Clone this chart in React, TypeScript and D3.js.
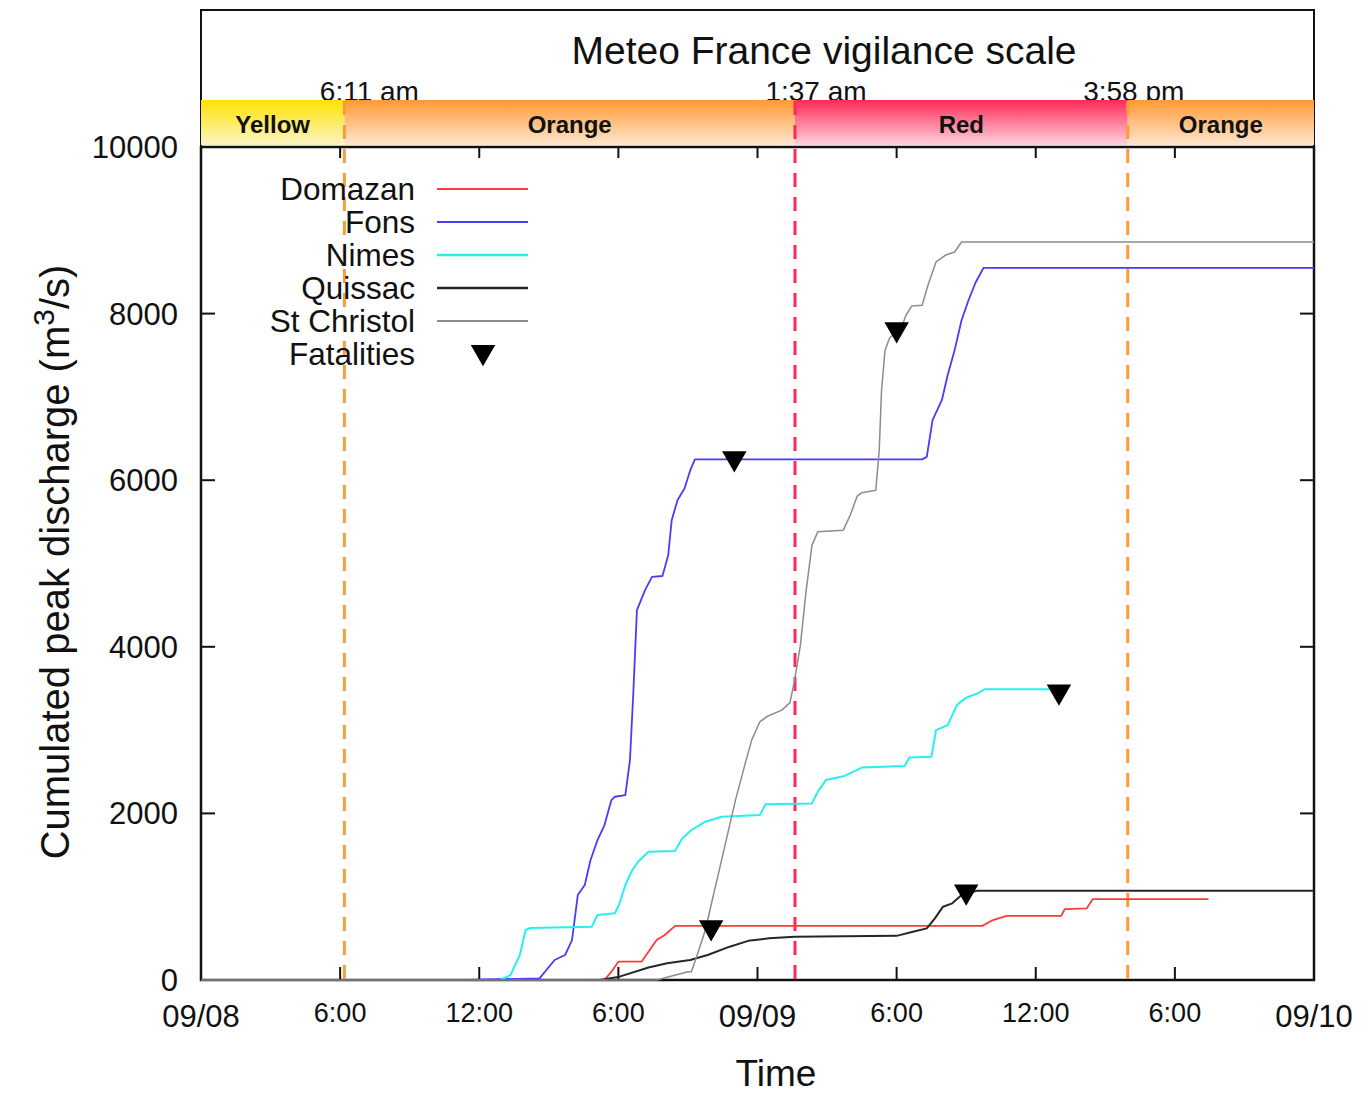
import { useEffect, useRef } from 'react';
import * as d3 from 'd3';

// hours since 09/08 00:00, cumulated peak discharge (m3/s)
const domazan: [number, number][] = [
  [0, 0], [17.4, 0], [17.7, 100], [18.0, 220], [19.0, 220], [19.35, 360], [19.65, 480],
  [20.0, 540], [20.45, 650], [33.7, 650], [34.15, 720], [34.75, 770], [37.1, 770],
  [37.25, 850], [38.2, 860], [38.45, 970], [43.45, 970],
];
const fons: [number, number][] = [
  [0, 0], [11.5, 0], [14.6, 20], [15.25, 240], [15.7, 300], [16.0, 480], [16.25, 1020],
  [16.55, 1140], [16.8, 1440], [17.1, 1680], [17.4, 1860], [17.7, 2160], [17.85, 2200],
  [18.3, 2220], [18.5, 2640], [18.65, 3480], [18.8, 4440], [19.15, 4680], [19.45, 4840],
  [19.9, 4850], [20.15, 5100], [20.3, 5520], [20.55, 5760], [20.85, 5900], [21.1, 6120],
  [21.3, 6250], [31.1, 6250], [31.3, 6280], [31.55, 6720], [31.75, 6840], [31.95, 6960],
  [32.2, 7260], [32.5, 7560], [32.8, 7920], [33.1, 8160], [33.4, 8370], [33.75, 8550],
  [48, 8550],
];
const nimes: [number, number][] = [
  [0, 0], [12.9, 0], [13.35, 60], [13.55, 180], [13.75, 300], [14.0, 600], [14.2, 625],
  [16.85, 640], [17.1, 780], [17.85, 800], [18.05, 920], [18.3, 1140], [18.6, 1320],
  [18.85, 1420], [19.3, 1540], [20.45, 1550], [20.75, 1700], [21.15, 1800], [21.75, 1900],
  [22.45, 1960], [24.1, 1980], [24.35, 2110], [26.35, 2120], [26.6, 2260], [26.95, 2400],
  [27.75, 2450], [28.5, 2550], [30.35, 2570], [30.55, 2670], [31.5, 2680], [31.7, 3000],
  [32.2, 3060], [32.6, 3300], [33.0, 3390], [33.4, 3430], [33.8, 3490], [36.6, 3490],
];
const quissac: [number, number][] = [
  [0, 0], [17.2, 0], [18.05, 40], [19.3, 150], [20.1, 200], [21.1, 240], [21.85, 300],
  [22.8, 400], [23.6, 470], [24.5, 500], [25.6, 520], [30.0, 530], [30.7, 580],
  [31.3, 620], [31.65, 740], [32.0, 880], [32.4, 920], [32.8, 1020], [33.45, 1070],
  [48, 1070],
];
const stChristol: [number, number][] = [
  [0, 0], [19.65, 0], [21.0, 100], [21.15, 100], [21.4, 300], [21.75, 600], [22.05, 960],
  [22.4, 1380], [22.75, 1800], [23.05, 2160], [23.45, 2580], [23.75, 2880], [24.1, 3100],
  [24.45, 3170], [25.05, 3240], [25.4, 3330], [25.6, 3600], [25.85, 4020], [26.1, 4680],
  [26.35, 5220], [26.6, 5380], [27.7, 5400], [28.0, 5580], [28.3, 5810], [28.5, 5850],
  [29.1, 5880], [29.25, 6360], [29.35, 7080], [29.5, 7560], [29.7, 7710], [29.95, 7770],
  [30.25, 7860], [30.4, 7980], [30.65, 8090], [31.1, 8100], [31.35, 8340], [31.7, 8620],
  [32.1, 8700], [32.5, 8740], [32.8, 8860], [48, 8860],
];
const fatalities: [number, number][] = [
  [22, 620], [23, 6250], [30, 7800], [33, 1050], [37, 3450],
];

const seriesNames = ['Domazan', 'Fons', 'Nimes', 'Quissac', 'St Christol'];
const seriesData = [domazan, fons, nimes, quissac, stChristol];
const seriesColors = ['#ff3a3a', '#4a3cff', '#2aeeee', '#262626', '#8c8c8c'];
const seriesWidths = [1.8, 1.8, 2, 2, 1.5];

const xTicks = [0, 6, 12, 18, 24, 30, 36, 42, 48];
const xTickLabels = ['09/08', '6:00', '12:00', '6:00', '09/09', '6:00', '12:00', '6:00', '09/10'];
const yTicks = [0, 2000, 4000, 6000, 8000, 10000];

// vigilance levels: start hour, end hour, label
const levelStarts = [0, 6.183, 25.617, 39.967];
const levelEnds = [6.183, 25.617, 39.967, 48];
const levelNames = ['Yellow', 'Orange', 'Red', 'Orange'];
const levelKeys = ['yellow', 'orange', 'red', 'orange'];
const changeTimes = [6.183, 25.617, 39.967];
const changeLabels = ['6:11 am', '1:37 am', '3:58 pm'];
const changeKeys = ['orange', 'red', 'orange'];

export default function App() {
  const svgRef = useRef<SVGSVGElement>(null);

  useEffect(() => {
    document.body.style.margin = '0';
    if (!svgRef.current) return;
    const width = 1372;
    const height = 1093;
    const left = 201, right = 1314, top = 147, bottom = 980;
    const font = '"Liberation Sans", Arial, Helvetica, sans-serif';

    const svg = d3.select(svgRef.current);
    svg.selectAll('*').remove();
    svg.attr('width', width).attr('height', height);

    const x = d3.scaleLinear().domain([0, 48]).range([left, right]);
    const y = d3.scaleLinear().domain([0, 10000]).range([bottom, top]);

    // gradients for the vigilance band
    const defs = svg.append('defs');
    const grads: Record<string, [string, string]> = {
      yellow: ['#ffe200', '#fbf5c6'],
      orange: ['#ff9933', '#ffe7cf'],
      red: ['#ff2a58', '#ffd2dc'],
    };
    Object.entries(grads).forEach(([k, [c1, c2]]) => {
      const lg = defs.append('linearGradient').attr('id', `g-${k}`)
        .attr('x1', 0).attr('x2', 0).attr('y1', 0).attr('y2', 1);
      lg.append('stop').attr('offset', '0%').attr('stop-color', c1);
      lg.append('stop').attr('offset', '100%').attr('stop-color', c2);
    });
    const dashColor: Record<string, string> = { orange: '#ff9a3c', red: '#ff2a58' };

    // banner box
    svg.append('rect')
      .attr('x', left).attr('y', 10).attr('width', right - left).attr('height', top - 10)
      .attr('fill', 'white').attr('stroke', '#111').attr('stroke-width', 2);

    svg.append('text')
      .attr('x', 824).attr('y', 64).attr('text-anchor', 'middle')
      .style('font-family', font).style('font-size', '39px').style('fill', '#111')
      .text('Meteo France vigilance scale');

    const labelOffsets = [25, 21, 6];
    changeTimes.forEach((t, i) => {
      svg.append('text')
        .attr('x', x(t) + labelOffsets[i]).attr('y', 101).attr('text-anchor', 'middle')
        .style('font-family', font).style('font-size', '28px').style('fill', '#111')
        .text(changeLabels[i]);
    });

    levelStarts.forEach((s, i) => {
      svg.append('rect')
        .attr('x', x(s)).attr('y', 100).attr('width', x(levelEnds[i]) - x(s)).attr('height', 45)
        .attr('fill', `url(#g-${levelKeys[i]})`);
      svg.append('text')
        .attr('x', (x(s) + x(levelEnds[i])) / 2).attr('y', 133).attr('text-anchor', 'middle')
        .style('font-family', font).style('font-size', '24px').style('font-weight', 'bold')
        .style('fill', '#111')
        .text(levelNames[i]);
    });

    // plot frame
    svg.append('rect')
      .attr('x', left).attr('y', top).attr('width', right - left).attr('height', bottom - top)
      .attr('fill', 'white').attr('stroke', '#111').attr('stroke-width', 2.5);

    // ticks (inward, mirrored)
    const tickG = svg.append('g').attr('stroke', '#111').attr('stroke-width', 2);
    xTicks.forEach(t => {
      tickG.append('line').attr('x1', x(t)).attr('x2', x(t)).attr('y1', bottom).attr('y2', bottom - 13);
      tickG.append('line').attr('x1', x(t)).attr('x2', x(t)).attr('y1', top).attr('y2', top + 11);
    });
    yTicks.forEach(v => {
      tickG.append('line').attr('x1', left).attr('x2', left + 14).attr('y1', y(v)).attr('y2', y(v));
      tickG.append('line').attr('x1', right).attr('x2', right - 14).attr('y1', y(v)).attr('y2', y(v));
    });

    // tick labels
    xTicks.forEach((t, i) => {
      const isDate = xTickLabels[i].includes('/');
      svg.append('text')
        .attr('x', x(t)).attr('y', isDate ? 1027 : 1022).attr('text-anchor', 'middle')
        .style('font-family', font).style('font-size', isDate ? '31px' : '27px')
        .style('fill', '#111')
        .text(xTickLabels[i]);
    });
    yTicks.forEach(v => {
      svg.append('text')
        .attr('x', 178).attr('y', y(v) + 11).attr('text-anchor', 'end')
        .style('font-family', font).style('font-size', '31px').style('fill', '#111')
        .text(String(v));
    });

    // axis titles
    svg.append('text')
      .attr('x', 776).attr('y', 1086).attr('text-anchor', 'middle')
      .style('font-family', font).style('font-size', '37px').style('fill', '#111')
      .text('Time');

    const yt = svg.append('text')
      .attr('transform', 'translate(69,562) rotate(-90)').attr('text-anchor', 'middle')
      .style('font-family', font).style('font-size', '40px').style('fill', '#111');
    yt.append('tspan').text('Cumulated peak discharge (m');
    yt.append('tspan').attr('dy', -15).style('font-size', '30px').text('3');
    yt.append('tspan').attr('dy', 15).text('/s)');

    // vigilance change lines
    changeTimes.forEach((t, i) => {
      svg.append('line')
        .attr('x1', x(t)).attr('x2', x(t)).attr('y1', 101).attr('y2', bottom)
        .attr('stroke', dashColor[changeKeys[i]]).attr('stroke-width', 3)
        .attr('stroke-dasharray', '14,10');
    });

    // series
    const line = d3.line<[number, number]>()
      .x(d => x(d[0]))
      .y(d => y(d[1]));

    seriesData.forEach((data, i) => {
      svg.append('path')
        .datum(data)
        .attr('fill', 'none')
        .attr('stroke', seriesColors[i])
        .attr('stroke-width', seriesWidths[i])
        .attr('stroke-linejoin', 'round')
        .attr('d', line);
    });

    const tri = d3.symbol().type(d3.symbolTriangle).size(260);
    svg.selectAll('.fatality')
      .data(fatalities)
      .join('path')
      .attr('class', 'fatality')
      .attr('d', tri)
      .attr('transform', d => `translate(${x(d[0])},${y(d[1]) - 1}) rotate(180)`)
      .attr('fill', '#000');

    // legend
    const legend = svg.append('g');
    seriesNames.forEach((name, i) => {
      const ly = 189 + i * 33;
      legend.append('text')
        .attr('x', 415).attr('y', ly + 11).attr('text-anchor', 'end')
        .style('font-family', font).style('font-size', '31.5px').style('fill', '#111')
        .text(name);
      legend.append('line')
        .attr('x1', 437).attr('x2', 528).attr('y1', ly).attr('y2', ly)
        .attr('stroke', seriesColors[i]).attr('stroke-width', seriesWidths[i] + 0.3);
    });
    const fy = 189 + 5 * 33;
    legend.append('text')
      .attr('x', 415).attr('y', fy + 11).attr('text-anchor', 'end')
      .style('font-family', font).style('font-size', '31.5px').style('fill', '#111')
      .text('Fatalities');
    legend.append('path')
      .attr('d', tri)
      .attr('transform', `translate(483,${fy - 2}) rotate(180)`)
      .attr('fill', '#000');
  }, []);

  return <svg ref={svgRef} style={{ display: 'block' }}></svg>;
}
